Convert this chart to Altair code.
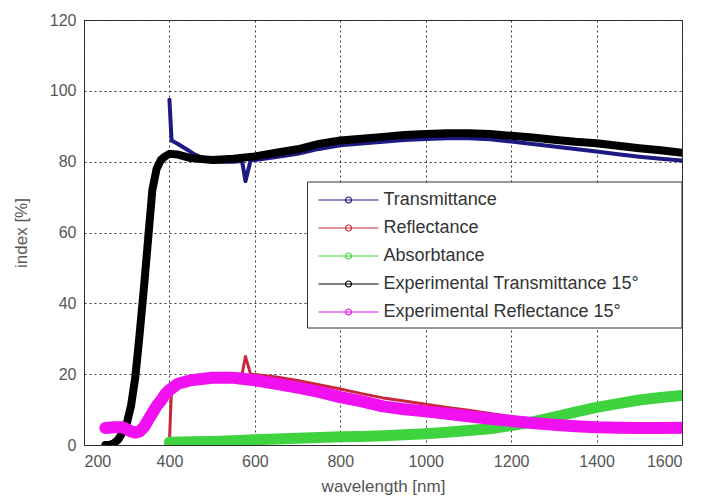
import altair as alt
import pandas as pd

series_names = ["Transmittance", "Reflectance", "Absorbtance",
                "Experimental Transmittance 15°", "Experimental Reflectance 15°"]
series_colors = ["#1e1a84", "#c8283c", "#3fd43f", "#000000", "#f010f0"]

x_ticks = [200, 400, 600, 800, 1000, 1200, 1400, 1600]
y_ticks = [0, 20, 40, 60, 80, 100, 120]

# Transmittance (theory)
t_wl = [400, 405, 420, 440, 460, 480, 500, 550, 570, 578, 590, 600, 650, 700, 750, 800, 850, 900,
        950, 1000, 1050, 1100, 1150, 1200, 1250, 1300, 1350, 1400, 1450, 1500, 1550, 1600]
t_val = [97.5, 86, 85, 83.5, 82, 81, 80, 80, 80.2, 74.5, 80.3, 80.5, 81.3, 82.2, 83.6, 84.6, 85.1, 85.6,
         86.1, 86.4, 86.6, 86.6, 86.3, 85.7, 85, 84.3, 83.6, 82.9, 82.1, 81.4, 80.8, 80.3]

# Reflectance (theory)
r_wl = [400, 405, 420, 450, 500, 550, 570, 578, 590, 600, 650, 700, 750, 800, 850, 900, 950, 1000,
        1050, 1100, 1150, 1200, 1250, 1300, 1350, 1400, 1450, 1500, 1550, 1600]
r_val = [1, 16, 17.5, 18.8, 19.8, 20, 20, 25, 20, 19.9, 19.2, 18.2, 17, 15.8, 14.5, 13.3, 12.4, 11.5,
         10.6, 9.8, 8.9, 8, 7.2, 6.5, 6, 5.6, 5.3, 5.1, 5, 5]

# Absorbtance (theory)
a_wl = [400, 450, 500, 550, 600, 650, 700, 750, 800, 850, 900, 950, 1000, 1050, 1100, 1150, 1200,
        1250, 1300, 1350, 1400, 1450, 1500, 1550, 1600]
a_val = [0.8, 0.9, 1, 1.2, 1.5, 1.7, 1.9, 2.1, 2.3, 2.4, 2.6, 2.9, 3.2, 3.6, 4.1, 4.6, 5.5,
         6.5, 7.9, 9.3, 10.6, 11.7, 12.7, 13.4, 14]

# Experimental Transmittance 15°
et_wl = [250, 260, 270, 280, 290, 300, 310, 320, 330, 340, 350, 360, 370, 380, 390, 400, 420, 450,
         500, 550, 600, 650, 700, 750, 800, 850, 900, 950, 1000, 1050, 1100, 1150, 1200, 1250, 1300,
         1350, 1400, 1450, 1500, 1550, 1600]
et_val = [0, 0, 0.5, 1.5, 3.5, 6, 11, 19, 31, 44, 58, 72, 78, 80.5, 81.5, 82.2, 82, 81, 80.5, 80.8,
          81.5, 82.5, 83.5, 85, 86, 86.5, 87, 87.5, 87.8, 88, 88, 87.8, 87.3, 86.8, 86.2, 85.6, 85.2,
          84.5, 83.8, 83.2, 82.5]

# Experimental Reflectance 15°
er_wl = [250, 270, 290, 300, 310, 320, 330, 340, 350, 360, 370, 380, 390, 400, 420, 450, 500, 550,
         600, 650, 700, 750, 800, 850, 900, 950, 1000, 1050, 1100, 1150, 1200, 1250, 1300, 1350,
         1400, 1450, 1500, 1550, 1600]
er_val = [4.8, 5, 5, 4.5, 3.8, 3.5, 3.8, 5, 7, 9, 11, 12.5, 14.3, 15.5, 17.3, 18.3, 19, 19, 18.3,
          17.3, 16.2, 15, 13.5, 12.3, 10.9, 10.1, 9.5, 8.8, 8.1, 7.4, 6.8, 6.2, 5.7, 5.3, 5, 4.9,
          4.8, 4.8, 4.9]

rows = []
for name, wl, vals in zip(series_names, [t_wl, r_wl, a_wl, et_wl, er_wl],
                          [t_val, r_val, a_val, et_val, er_val]):
    for w, v in zip(wl, vals):
        rows.append({"series": name, "wavelength": w, "value": v})
df = pd.DataFrame(rows)

FONT = "Liberation Sans"

legend = alt.Legend(
    title=None, orient="none", legendX=253.5, legendY=169,
    symbolType="M-3,0H3M-0.3,0A0.3,0.3,0,1,1,0.3,0A0.3,0.3,0,1,1,-0.3,0Z",
    symbolSize=400, symbolStrokeWidth=1.2, symbolFillColor="transparent",
    labelFont=FONT, labelFontSize=18, labelColor="#333", labelOffset=24,
    symbolOffset=0, rowPadding=8, padding=0, labelLimit=400,
)

color = alt.Color("series:N", scale=alt.Scale(domain=series_names, range=series_colors),
                  legend=legend)
axis_common = dict(
    labelFont=FONT, labelFontSize=16, labelColor="#555",
    titleFont=FONT, titleFontSize=17, titleColor="#555", titleFontWeight="normal",
    grid=True, gridDash=[2, 3], gridColor="#222", gridOpacity=0.9, gridWidth=1,
    domain=False, ticks=False, format="d",
)
x = alt.X("wavelength:Q", scale=alt.Scale(domain=[200, 1600], nice=False, zero=False),
          axis=alt.Axis(values=x_ticks, title="wavelength [nm]", labelPadding=8, titlePadding=9,
                        **axis_common))
y = alt.Y("value:Q", scale=alt.Scale(domain=[0, 120], nice=False),
          axis=alt.Axis(values=y_ticks, title="index [%]", labelPadding=8, titlePadding=19,
                        **axis_common))

base = alt.Chart(df)


def line_layer(name, width):
    return base.transform_filter(alt.datum.series == name).mark_line(
        strokeWidth=width, clip=True, strokeCap="round", strokeJoin="round"
    ).encode(x=x, y=y, color=color)


layers = [
    line_layer(series_names[0], 4),
    line_layer(series_names[1], 3),
    line_layer(series_names[2], 11),
    line_layer(series_names[3], 8),
    base.transform_filter(alt.datum.series == series_names[3]).mark_point(
        shape="cross", filled=True, size=40, clip=True, opacity=1
    ).encode(x=x, y=y, color=alt.value("#000000")),
    line_layer(series_names[4], 12),
]

box = alt.Chart(pd.DataFrame({"box": [0]})).mark_rect(
    fill="white", stroke="#333", strokeWidth=1
).encode(x=alt.value(223.5), x2=alt.value(598), y=alt.value(162), y2=alt.value(308))
layers.append(box)

chart = alt.layer(*layers).properties(
    width=598, height=425,
    background="white",
    autosize=alt.AutoSizeParams(type="none"),
    padding={"left": 76, "top": 12, "right": 14, "bottom": 54},
).configure_view(
    stroke="#333", strokeWidth=1
)

chart.save("out.html", embed_options={"renderer": "svg", "actions": False})
